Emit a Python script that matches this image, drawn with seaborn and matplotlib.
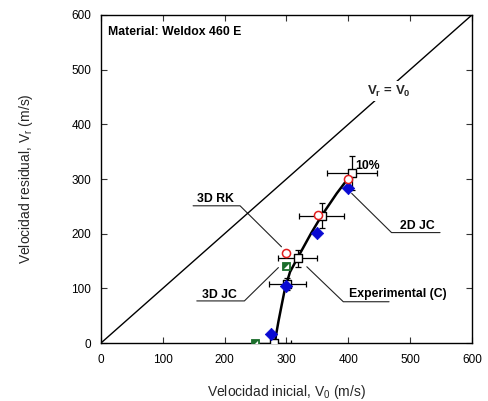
import matplotlib
matplotlib.use("Agg")
import matplotlib.pyplot as plt
import seaborn as sns
import numpy as np
import pandas as pd
from matplotlib.path import Path

# ---------------- data ----------------
exp_v0 = [280, 301, 318, 357, 406]
exp_vr = [0, 108, 155, 233, 311]
exp_xerr = [28, 30, 32, 36, 41]
exp_yerr = [0, 11, 15.5, 23, 31]

jc3d_v0 = [275, 300, 350, 399]
jc3d_vr = [16, 105, 202, 283]

jc2d_v0 = [300, 351, 400]
jc2d_vr = [164, 235, 300]

rk3d_v0 = [249, 300]
rk3d_vr = [0, 141]

fit_v0 = [281.5, 283.2, 287, 292.3, 297.7, 305.8, 317.7, 339.8, 357, 381.4, 406.7]
fit_vr = [0, 14.6, 39, 69.5, 100, 130, 155, 200.5, 233, 273.7, 311.4]

diag_v = [0, 600]

ticks = [0, 100, 200, 300, 400, 500, 600]

# ---------------- style ----------------
sns.set_theme(style="ticks")
plt.rcParams["font.family"] = ["Liberation Sans", "DejaVu Sans"]
plt.rcParams["mathtext.fontset"] = "custom"
plt.rcParams["mathtext.rm"] = "Liberation Sans"
plt.rcParams["mathtext.it"] = "Liberation Sans:italic"
plt.rcParams["mathtext.bf"] = "Liberation Sans:bold"

fig = plt.figure(figsize=(4.89, 4.01), dpi=100)
ax = fig.add_axes([0.2065, 0.1446, 0.7585, 0.818])

# diagonal
sns.lineplot(x=diag_v, y=diag_v, ax=ax, color="black", lw=1.0, zorder=2)
# fitted curve
sns.lineplot(x=fit_v0, y=fit_vr, ax=ax, color="black", lw=1.8, sort=False, zorder=3)

# error bars of experimental
ax.errorbar(exp_v0, exp_vr, xerr=exp_xerr, yerr=exp_yerr, fmt="none",
            ecolor="black", elinewidth=0.9, capsize=2.5, capthick=0.9, zorder=4)

# experimental white squares
sns.scatterplot(x=exp_v0, y=exp_vr, ax=ax, marker="s", s=36, color="white",
                edgecolor="black", linewidth=1.0, zorder=5)

# 3D RK green squares (half filled)
sns.scatterplot(x=rk3d_v0, y=rk3d_vr, ax=ax, marker="s", s=36, color="#1b6e2c",
                edgecolor="#1b6e2c", linewidth=0.6, zorder=6)
tri = Path([(-0.5, -0.5), (0.5, 0.5), (0.5, -0.5), (-0.5, -0.5)])
sns.scatterplot(x=rk3d_v0, y=rk3d_vr, ax=ax, marker=tri, s=14, color="white",
                linewidth=0, zorder=7)

# 3D JC blue diamonds
sns.scatterplot(x=jc3d_v0, y=jc3d_vr, ax=ax, marker="D", s=40, color="#0a0ad2",
                edgecolor="#0a0ad2", linewidth=0.5, zorder=8)

# 2D JC red circles
sns.scatterplot(x=jc2d_v0, y=jc2d_vr, ax=ax, marker="o", s=34, color="white",
                edgecolor="#e21e1e", linewidth=1.1, zorder=9)

# ---------------- axes ----------------
ax.set_xlim(0, 600)
ax.set_ylim(0, 600)
ax.set_xticks(ticks)
ax.set_yticks(ticks)
ax.tick_params(direction="in", length=4, width=0.8, labelsize=8.5, color="#333333",
               labelcolor="black", top=True, right=True)
ax.tick_params(axis="x", pad=8)
ax.tick_params(axis="y", pad=7)
for s in ax.spines.values():
    s.set_linewidth(1.0)
    s.set_color("black")
    s.set_visible(True)

ax.set_xlabel(r"Velocidad inicial, V$_\mathrm{0}$ (m/s)", fontsize=10, labelpad=12)
ax.set_ylabel(r"Velocidad residual, V$_\mathrm{r}$ (m/s)", fontsize=10, labelpad=26)

# ---------------- annotations ----------------
bold = dict(fontsize=8.8, fontweight="bold", color="black")
ax.text(12, 569, "Material: Weldox 460 E", ha="left", va="center", **bold)
ax.text(466, 461, r"$\mathbf{V_r}$ = $\mathbf{V_0}$", ha="center", va="center",
        fontsize=9.5, fontweight="bold",
        bbox=dict(facecolor="white", edgecolor="none", pad=2), zorder=10)
ax.text(432, 323, "10%", ha="center", va="center", **bold)

leaders = [
    ("3D RK", [(292, 176), (225, 251), (149, 251)], (185, 263), "center"),
    ("3D JC", [(287, 138), (232, 77), (155, 77)], (192, 87), "center"),
    ("Experimental (C)", [(333, 139.5), (392, 75.5), (466, 75.5)], (402, 89), "left"),
    ("2D JC", [(405.6, 273.7), (470, 202), (548.5, 202)], (512, 213.5), "center"),
]
for label, pts, tpos, ha in leaders:
    xs = [p[0] for p in pts]
    ys = [p[1] for p in pts]
    ax.plot(xs, ys, color="#222222", lw=0.8, zorder=1)
    ax.text(tpos[0], tpos[1], label, ha=ha, va="center", **bold)

fig.savefig("out.png", dpi=100)
